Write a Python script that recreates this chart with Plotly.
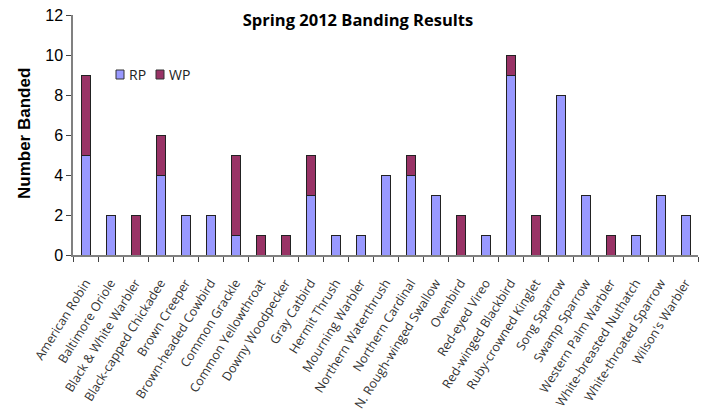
import plotly.graph_objects as go

species = [
    "American Robin", "Baltimore Oriole", "Black & White Warbler",
    "Black-capped Chickadee", "Brown Creeper", "Brown-headed Cowbird",
    "Common Grackle", "Common Yellowthroat", "Downy Woodpecker",
    "Gray Catbird", "Hermit Thrush", "Mourning Warbler",
    "Northern Waterthrush", "Northern Cardinal", "N. Rough-winged Swallow",
    "Ovenbird", "Red-eyed Vireo", "Red-winged Blackbird",
    "Ruby-crowned Kinglet", "Song Sparrow", "Swamp Sparrow",
    "Western Palm Warbler", "White-breasted Nuthatch",
    "White-throated Sparrow", "Wilson's Warbler",
]
rp = [5, 2, 0, 4, 2, 2, 1, 0, 0, 3, 1, 1, 4, 4, 3, 0, 1, 9, 0, 8, 3, 0, 1, 3, 2]
wp = [4, 0, 2, 2, 0, 0, 4, 1, 1, 2, 0, 0, 0, 1, 0, 2, 0, 1, 2, 0, 0, 1, 0, 0, 0]

series = [("RP", rp, "#9999FF"), ("WP", wp, "#993366")]
OUTLINE = "#222222"


def nz(vals):
    # empty segments are left out so no zero-height outline is drawn
    return [v if v else None for v in vals]


W, H = 704, 415
L, R, T, B = 73, 6, 15, 160
pw, ph = W - L - R, H - T - B


def px_x(px):
    return (px - L) / pw


def px_y(py):
    return (T + ph - py) / ph


fig = go.Figure()
for name, vals, color in series:
    fig.add_bar(x=species, y=nz(vals), name=name, showlegend=False,
                marker=dict(color=color, line=dict(color=OUTLINE, width=1)))

# compact legend: small swatch followed by its label
for i, (name, _, color) in enumerate(series):
    x0 = 116 + i * 40
    fig.add_shape(type="rect", xref="paper", yref="paper",
                  x0=px_x(x0), x1=px_x(x0 + 8), y0=px_y(79), y1=px_y(70),
                  fillcolor=color, line=dict(color="#333333", width=1))
    fig.add_annotation(text=name, xref="paper", yref="paper",
                       x=px_x(x0 + 11), y=px_y(74.5), xanchor="left",
                       yanchor="middle", showarrow=False,
                       font=dict(family="Open Sans", size=14, color="#222222"))

fig.update_layout(
    width=W, height=H,
    margin=dict(l=L, r=R, t=T, b=B, autoexpand=False),
    paper_bgcolor="white", plot_bgcolor="white",
    barmode="stack", bargap=0.64,
    font=dict(family="Open Sans", color="#222222"),
    title=dict(text="<b>Spring 2012 Banding Results</b>",
               x=358 / W, xanchor="center", xref="container",
               y=1 - 20 / H, yanchor="middle", yref="container",
               font=dict(family="Open Sans", size=16.5, color="black")),
    showlegend=False,
)

fig.update_xaxes(
    showline=True, linecolor="#808080", linewidth=1.5,
    ticks="outside", tickson="boundaries", ticklen=5, tickcolor="#444444",
    tickangle=-58, ticklabelstandoff=14,
    tickfont=dict(family="Open Sans", size=12.5, color="#333333"),
    showgrid=False, zeroline=False,
)
fig.update_yaxes(
    range=[0, 12], dtick=2, showline=True, linecolor="#808080", linewidth=1.5,
    ticks="outside", ticklen=5, tickcolor="#444444",
    tickfont=dict(family="Liberation Sans", size=16, color="black"),
    showgrid=False, zeroline=False,
)

fig.add_annotation(
    text="<b>Number Banded</b>", textangle=-90,
    xref="paper", yref="paper", x=px_x(24), y=px_y(134),
    xanchor="center", yanchor="middle", showarrow=False,
    font=dict(family="Liberation Sans", size=17, color="black"),
)

fig.write_html("out.html")
